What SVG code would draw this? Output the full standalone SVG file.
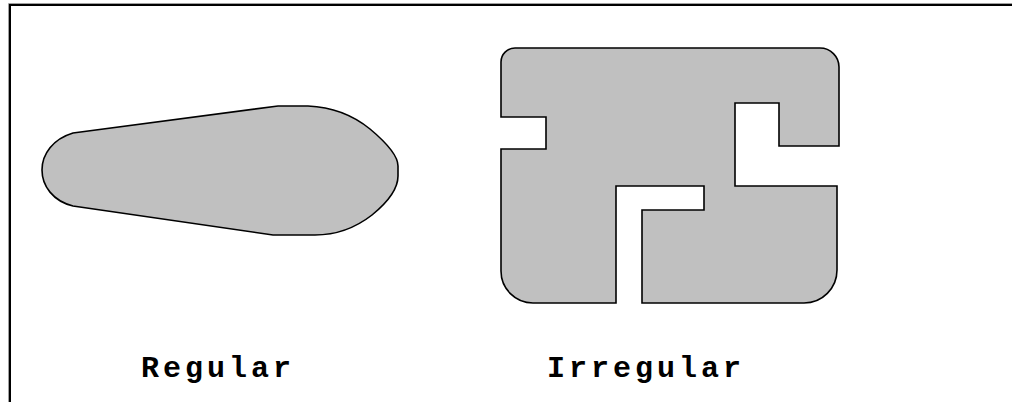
<svg xmlns="http://www.w3.org/2000/svg" width="1012" height="402" viewBox="0 0 1012 402">
<style>
.shape{fill:#c0c0c0;stroke:#000;stroke-width:1.6;stroke-linejoin:miter}
.lbl{font-family:"Liberation Mono","Courier New",monospace;font-weight:bold;font-size:30px;letter-spacing:4px;fill:#000}
</style>
<rect width="1012" height="402" fill="#fff"/>
<g id="frame">
<path d="M8.5,402 V3.5 H1012" fill="none" stroke="#a0a0a0" stroke-width="1"/>
<path d="M10,402 V5 H1012" fill="none" stroke="#000" stroke-width="2"/>
</g>
<g id="regular">
<path class="shape" d="M73,133 L278,106 L308,106 C332,107 354,116 370,129 C388,144 398,156 398,166 L398,176 C398,188 388,202 372,215 C354,229 335,235 315,235 L273,235 L73,206 C53,201 42,186 42,170 C42,154 53,139 73,133 Z"/>
<text class="lbl" x="141" y="377">Regular</text>
</g>
<g id="irregular">
<path class="shape" d="M515,48 L820,48 A19,19 0 0 1 839,67 L839,146 L779,146 L779,103 L735,103 L735,186 L837,186 L837,270 A33,33 0 0 1 804,303 L642,303 L642,210 L704,210 L704,186 L616,186 L616,303 L533,303 A32,32 0 0 1 501,271 L501,149 L546,149 L546,117 L501,117 L501,62 A14,14 0 0 1 515,48 Z"/>
<text class="lbl" x="547" y="377">Irregular</text>
</g>
</svg>
